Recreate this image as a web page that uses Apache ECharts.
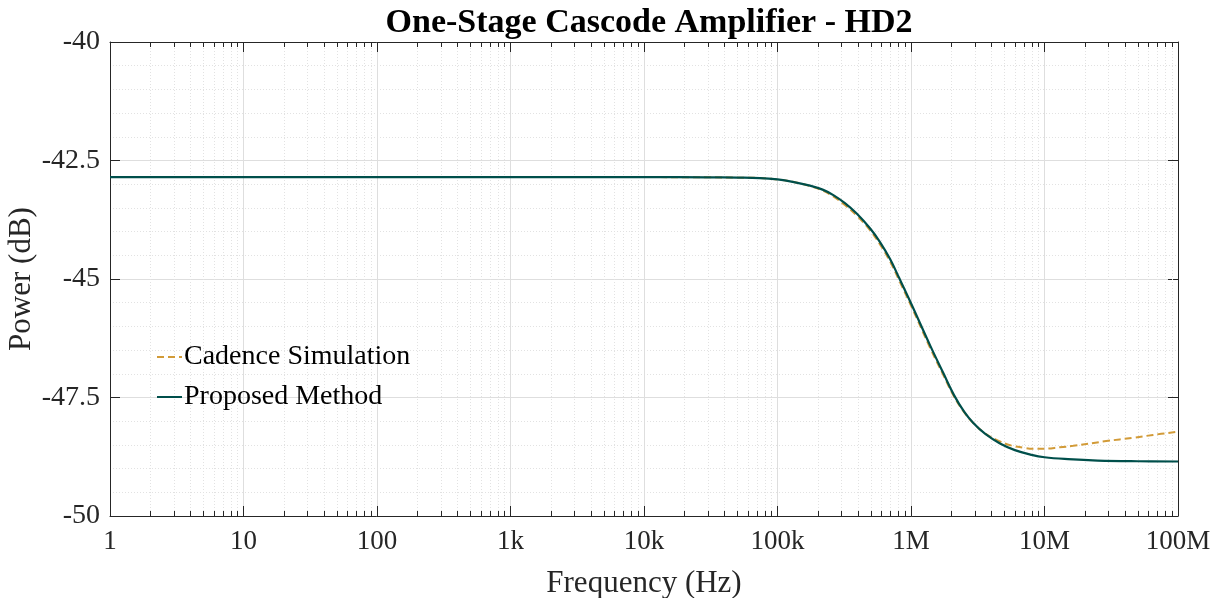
<!DOCTYPE html>
<html>
<head>
<meta charset="utf-8">
<script src="https://cdn.jsdelivr.net/npm/echarts@6/dist/echarts.min.js"></script>
<style>
html,body{margin:0;padding:0;background:#fff;}
#chart{width:1216px;height:598px;}
</style>
</head>
<body>
<div id="chart"></div>
<script>
// ---- Data ----
const freqCadence = [1,10,100,1e3,1e4,3e4,5e4,7.4e4,1e5,1.3e5,1.75e5,2.2e5,2.62e5,3.2e5,3.92e5,4.93e5,5.86e5,6.97e5,8.16e5,1e6,1.39e6,1.75e6,2.1e6,2.5e6,2.93e6,3.6e6,4.49e6,5.6e6,7e6,8.2e6,1e7,1.3e7,1.64e7,2.9e7,4.6e7,6.5e7,1e8];
const cadenceDb = [-42.85,-42.85,-42.85,-42.85,-42.85,-42.855,-42.86,-42.87,-42.90,-42.95,-43.04,-43.14,-43.26,-43.44,-43.66,-43.97,-44.27,-44.63,-45.03,-45.56,-46.45,-47.03,-47.48,-47.81,-48.04,-48.26,-48.41,-48.51,-48.56,-48.58,-48.58,-48.55,-48.52,-48.42,-48.35,-48.29,-48.22];
const freqProposed = [1,10,100,1e3,1e4,3e4,5e4,7.4e4,1e5,1.3e5,1.75e5,2.2e5,2.62e5,3.2e5,3.92e5,4.93e5,5.86e5,6.97e5,8.16e5,1e6,1.39e6,1.75e6,2.1e6,2.5e6,2.93e6,3.6e6,4.64e6,6e6,8e6,1e7,1.5e7,2.5e7,5e7,1e8];
const proposedDb = [-42.85,-42.85,-42.85,-42.85,-42.85,-42.855,-42.86,-42.87,-42.90,-42.95,-43.03,-43.12,-43.23,-43.40,-43.62,-43.93,-44.22,-44.58,-44.98,-45.51,-46.40,-46.99,-47.45,-47.80,-48.04,-48.27,-48.47,-48.61,-48.71,-48.76,-48.80,-48.83,-48.845,-48.85];
const seriesNames = ['Cadence Simulation','Proposed Method'];
const decadeLabels = {0:'1',1:'10',2:'100',3:'1k',4:'10k',5:'100k',6:'1M',7:'10M',8:'100M'};
const yTicks = [-50,-47.5,-45,-42.5,-40];
const minorMultipliers = [2,3,4,5,6,7,8,9];
const decades = [1,10,100,1e3,1e4,1e5,1e6,1e7];

const minorFreqs = [];
decades.forEach(d => minorMultipliers.forEach(m => minorFreqs.push([m*d, yTicks[0]])));

const FONT = '"Liberation Serif", "Times New Roman", serif';
const TXT = '#262626';
const AX = '#262626';

const chart = echarts.init(document.getElementById('chart'), null, {renderer:'canvas'});
const xBase = {
  type:'log', logBase:10, min:1, max:1e8, splitNumber:8,
  axisLine:{show:true, onZero:false, lineStyle:{color:AX, width:1}},
  axisTick:{show:true, inside:true, length:10, lineStyle:{color:AX}},
  minorTick:{show:false}
};
const yBase = {
  type:'value', min:-50, max:-40, interval:2.5,
  axisLine:{show:true, onZero:false, lineStyle:{color:AX, width:1}},
  axisTick:{show:true, inside:true, length:10, lineStyle:{color:AX}}
};
chart.setOption({
  animation:false,
  backgroundColor:'#fff',
  title:{
    text:'One-Stage Cascode Amplifier - HD2',
    left:644, textAlign:'center', top:1,
    textStyle:{fontFamily:FONT, fontWeight:'bold', fontSize:34, color:'#000'}
  },
  grid:{left:110, right:38, top:42, bottom:82, containLabel:false, outerBoundsMode:'none'},
  legend:{
    data:seriesNames,
    orient:'vertical', left:151, top:337,
    itemWidth:25, itemHeight:14, itemGap:10,
    itemStyle:{opacity:0, color:'transparent', borderWidth:0},
    textStyle:{fontFamily:FONT, fontSize:28, color:'#000', lineHeight:30, padding:[0,0,0,-3]},
    backgroundColor:'transparent'
  },
  xAxis:[
    Object.assign({}, xBase, {
      position:'bottom',
      name:'Frequency (Hz)', nameLocation:'middle', nameGap:52,
      nameTextStyle:{fontFamily:FONT, fontSize:31, color:TXT},
      axisLabel:{show:true, margin:12, fontFamily:FONT, fontSize:27, color:TXT,
        formatter:v => { const e = Math.round(Math.log10(v)); return decadeLabels[e] !== undefined ? decadeLabels[e] : ''; }},
      splitLine:{show:true, lineStyle:{color:'#dedede', width:1}}
    }),
    Object.assign({}, xBase, {
      position:'top',
      axisLabel:{show:false},
      splitLine:{show:false}
    })
  ],
  yAxis:[
    Object.assign({}, yBase, {
      position:'left',
      name:'Power (dB)', nameLocation:'middle', nameGap:73, nameRotate:90,
      nameMoveOverlap:false,
      nameTextStyle:{fontFamily:FONT, fontSize:31, color:TXT},
      axisLabel:{show:true, margin:10, fontFamily:FONT, fontSize:28, color:TXT,
        formatter:v => String(v)},
      splitLine:{show:true, lineStyle:{color:'#dedede', width:1}},
      minorTick:{show:false, splitNumber:5},
      minorSplitLine:{show:true, lineStyle:{color:'#e2e2e2', width:1, type:[1,2]}}
    }),
    Object.assign({}, yBase, {
      position:'right',
      axisLabel:{show:false},
      splitLine:{show:false}
    })
  ],
  series:[
    {
      type:'custom', name:'minorX', xAxisIndex:0, yAxisIndex:0, z:1, silent:true,
      data:minorFreqs,
      renderItem:function(params, api){
        const cs = params.coordSys;
        const p = api.coord([api.value(0), api.value(1)]);
        const x = Math.round(p[0]) + 0.5;
        const top = cs.y, bot = cs.y + cs.height;
        return {type:'group', children:[
          {type:'line', shape:{x1:x, y1:top, x2:x, y2:bot}, style:{stroke:'#e2e2e2', lineWidth:1, lineDash:[1,2]}},
          {type:'line', shape:{x1:x, y1:bot, x2:x, y2:bot-5}, style:{stroke:AX, lineWidth:1}},
          {type:'line', shape:{x1:x, y1:top, x2:x, y2:top+5}, style:{stroke:AX, lineWidth:1}}
        ]};
      }
    },
    {
      type:'line', name:seriesNames[0], xAxisIndex:0, yAxisIndex:0, z:3,
      data:freqCadence.map((f,i)=>[f, cadenceDb[i]]),
      showSymbol:false, symbol:'none', smooth:0.4,
      lineStyle:{color:'#d29b38', width:2, type:[7,4]},
      itemStyle:{color:'#d29b38'}
    },
    {
      type:'line', name:seriesNames[1], xAxisIndex:0, yAxisIndex:0, z:4,
      data:freqProposed.map((f,i)=>[f, proposedDb[i]]),
      showSymbol:false, symbol:'none', smooth:0.4,
      lineStyle:{color:'#004f4b', width:2.2},
      itemStyle:{color:'#004f4b'}
    }
  ]
});
</script>
</body>
</html>
